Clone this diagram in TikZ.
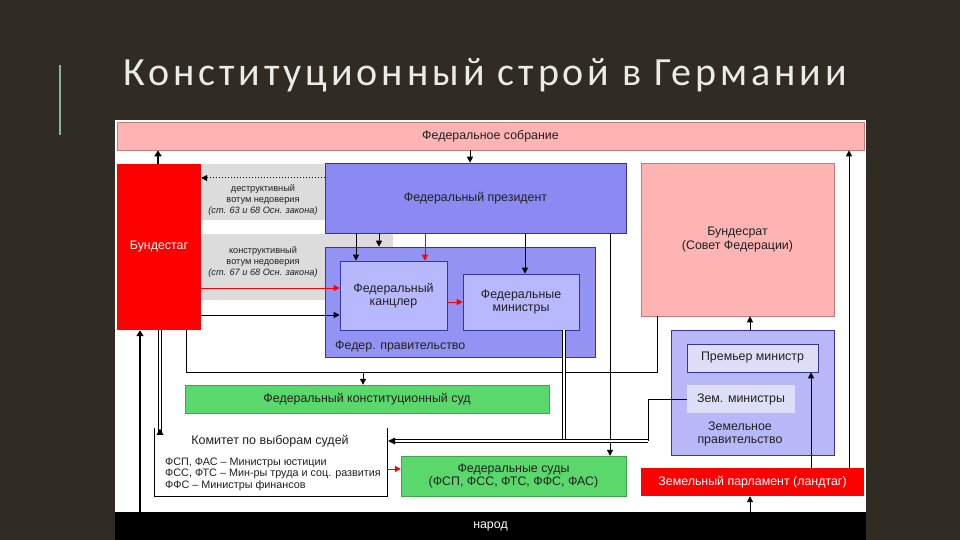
\documentclass[tikz,border=0pt]{standalone}
\usepackage{fontspec}
\setmainfont{Liberation Sans}
\newfontfamily\titlefont[LetterSpace=9.8]{Carlito}
\usetikzlibrary{arrows.meta}
\definecolor{bg}{HTML}{302C24}
\definecolor{titlec}{HTML}{ECECE6}
\definecolor{accent}{HTML}{8FB09C}
\definecolor{pinkc}{HTML}{FFB4B4}
\definecolor{pinkb}{HTML}{C87878}
\definecolor{redc}{HTML}{FF0000}
\definecolor{presc}{HTML}{8A8AF2}
\definecolor{govc}{HTML}{9393F4}
\definecolor{chc}{HTML}{B8B8FF}
\definecolor{lgc}{HTML}{B8B8F8}
\definecolor{pmc}{HTML}{DEDEF8}
\definecolor{blueb}{HTML}{3434A8}
\definecolor{greenc}{HTML}{5BD86B}
\definecolor{greenb}{HTML}{3AA84A}
\definecolor{grayc}{HTML}{DCDCDC}
\definecolor{txt}{HTML}{202020}
\tikzset{
  blk/.style={rectangle, inner sep=0pt, align=center, text=txt,
    font=\fontsize{12.4}{13.5}\selectfont},
  note/.style={inner sep=0pt, align=center, text=txt,
    font=\fontsize{9.2}{11}\selectfont},
  conn/.style={draw=black, line width=1pt},
  arr/.style={conn, -{Triangle[length=6pt,width=6pt]}},
  rarr/.style={draw=redc, line width=1pt, -{Triangle[length=6pt,width=6pt]}},
  dbl/.style={draw=black, line width=0.6pt, double=white, double distance=2pt},
}
\begin{document}
\begin{tikzpicture}[x=1pt,y=-1pt]
\fill[bg] (0,0) rectangle (960,540);
\useasboundingbox (0,0) rectangle (960,540);
% title
\draw[accent, line width=1.5pt] (60,65) -- (60,135);
\node[font=\titlefont\fontsize{40}{48}\selectfont, text=titlec, anchor=base west, inner sep=0pt] (title) at (123,86) {Конституционный строй в Германии};
% white panel
\fill[white] (115,120) rectangle (866,512);
% x / y helper coordinates
\foreach \x in {140,158,160,186,356,363,379,425,470,525,564,610,648,657,750,811,849}
  \coordinate (X\x) at (\x,0);
\foreach \y in {178,288,302,315,372,441,469}
  \coordinate (Y\y) at (0,\y);
% gray areas
\node[rectangle, fill=grayc, minimum width=124pt, minimum height=56pt, inner sep=0pt] (g1) at (263,192) {};
\node[rectangle, fill=grayc, minimum width=192pt, minimum height=66pt, inner sep=0pt] (g2) at (297,267) {};
\node[note] (g1t) at (263,200) {деструктивный\\вотум недоверия\\\textit{(ст. 63 и 68 Осн. закона)}};
\node[note] (g2t) at (263,262) {конструктивный\\вотум недоверия\\\textit{(ст. 67 и 68 Осн. закона)}};
% boxes
\node[blk, fill=pinkc, draw=pinkb, line width=0.6pt, minimum width=747pt, minimum height=28pt] (fs) at (490.5,136) {Федеральное собрание};
\node[blk, fill=redc, minimum width=84pt, minimum height=166pt, text=white] (bt) at (159,247) {Бундестаг};
\node[blk, fill=presc, draw=blueb, line width=0.6pt, minimum width=301pt, minimum height=70pt] (pr) at (475.5,198) {Федеральный президент};
\node[blk, fill=govc, draw=blueb, line width=0.6pt, minimum width=270pt, minimum height=110pt] (gov) at (460,302) {};
\node[blk, anchor=west] (govt) at (335,346) {Федер. правительство};
\node[blk, fill=chc, draw=blueb, line width=0.6pt, minimum width=107pt, minimum height=69pt] (ch) at (393.5,295.5) {Федеральный\\канцлер};
\node[blk, fill=chc, draw=blueb, line width=0.6pt, minimum width=116pt, minimum height=56pt] (fm) at (521,302) {Федеральные\\министры};
\node[blk, fill=pinkc, draw=pinkb, line width=0.6pt, minimum width=193pt, minimum height=153pt] (br) at (737.5,239.5) {Бундесрат\\(Совет Федерации)};
\node[blk, fill=lgc, draw=blueb, line width=0.6pt, minimum width=163pt, minimum height=125pt] (lg) at (752.5,392.5) {};
\node[blk] (lgt) at (740,434) {Земельное\\правительство};
\node[blk, fill=pmc, draw=blueb, line width=0.6pt, minimum width=131pt, minimum height=28pt] (pm) at (752.5,358) {Премьер министр};
\node[blk, fill=pmc, minimum width=108pt, minimum height=28pt] (lm) at (741,399) {Зем. министры};
\node[blk, fill=greenc, draw=greenb, line width=0.4pt, minimum width=364pt, minimum height=28pt] (cc) at (367,399) {Федеральный конституционный суд};
\node[blk, fill=white, minimum width=232pt, minimum height=68pt] (com) at (271,462) {};
\draw[black, line width=0.8pt] (com.north west) -- (com.south west) -- (com.south east) -- (com.north east);
\node[blk, font=\fontsize{12.5}{13}\selectfont] (comt) at (270,441) {Комитет по выборам судей};
\node[note, anchor=west, align=left, font=\fontsize{10.8}{11.6}\selectfont] (coml) at (165,474) {ФСП, ФАС – Министры юстиции\\ФСС, ФТС – Мин-ры труда и соц. развития\\ФФС – Министры финансов};
\node[blk, fill=greenc, draw=greenb, line width=0.4pt, minimum width=225pt, minimum height=40pt] (fc) at (513.5,476) {Федеральные суды\\(ФСП, ФСС, ФТС, ФФС, ФАС)};
\node[blk, fill=redc, minimum width=223pt, minimum height=28pt, text=white] (lt) at (752.5,482) {Земельный парламент (ландтаг)};
\node[blk, fill=black, minimum width=751pt, minimum height=28pt, text=white] (nar) at (490.5,526) {народ};
% connectors
\draw[arr] (X470 |- fs.south) -- (X470 |- pr.north);
\draw[conn, dotted, -{Triangle[length=6pt,width=6pt]}] (pr.west |- Y178) -- (bt.east |- Y178);
\draw[arr] (X356 |- pr.south) -- (X356 |- ch.north);
\draw[arr] (X379 |- pr.south) -- (X379 |- gov.north);
\draw[rarr] (X425 |- pr.south) -- (X425 |- ch.north);
\draw[arr] (X525 |- pr.south) -- (X525 |- fm.north);
\draw[rarr] (ch.east |- Y302) -- (fm.west |- Y302);
\draw[rarr] (bt.east |- Y288) -- (ch.west |- Y288);
\draw[arr] (bt.east |- Y315) -- (ch.west |- Y315);
\draw[draw=black, line width=1.8pt, -{Triangle[length=6pt,width=7pt]}] (X158 |- bt.north) -- (X158 |- fs.south);
\draw[draw=black, line width=1.8pt, -{Triangle[length=6pt,width=7pt]}] (X140 |- nar.north) -- (X140 |- bt.south);
\draw[dbl] (X160 |- bt.south) -- ([yshift=-6]X160 |- com.north);
\fill[black] ([xshift=-3.5,yshift=-7]X160 |- com.north) -- ([xshift=3.5,yshift=-7]X160 |- com.north) -- ([yshift=-1]X160 |- com.north) -- cycle;
\draw[conn] (X186 |- bt.south) -- (X186 |- Y372) -- (X657 |- Y372) -- (X657 |- br.south);
\draw[arr] (X363 |- Y372) -- (X363 |- cc.north);
\draw[arr] (X610 |- pr.south) -- (X610 |- fc.north);
\draw[dbl] (X564 |- fm.south) -- (X564 |- Y441);
\draw[conn, line width=0.7pt] (lm.west) -- (X648 |- lm.west) -- (X648 |- Y441);
\draw[dbl] (X648 |- Y441) -- ([xshift=7]com.east |- Y441);
\fill[black] ([xshift=8]com.east |- Y441) ++(0,-3.5) -- ++(0,7) -- ([xshift=1]com.east |- Y441) -- cycle;
\draw[rarr] (com.east |- Y469) -- (fc.west |- Y469);
\draw[arr] (X750 |- lg.north) -- (X750 |- br.south);
\draw[arr] (X811 |- lt.north) -- (X811 |- pm.south);
\draw[arr] (X849 |- lt.north) -- (X849 |- fs.south);
\draw[arr] (X750 |- nar.north) -- (X750 |- lt.south);
\end{tikzpicture}
\end{document}
